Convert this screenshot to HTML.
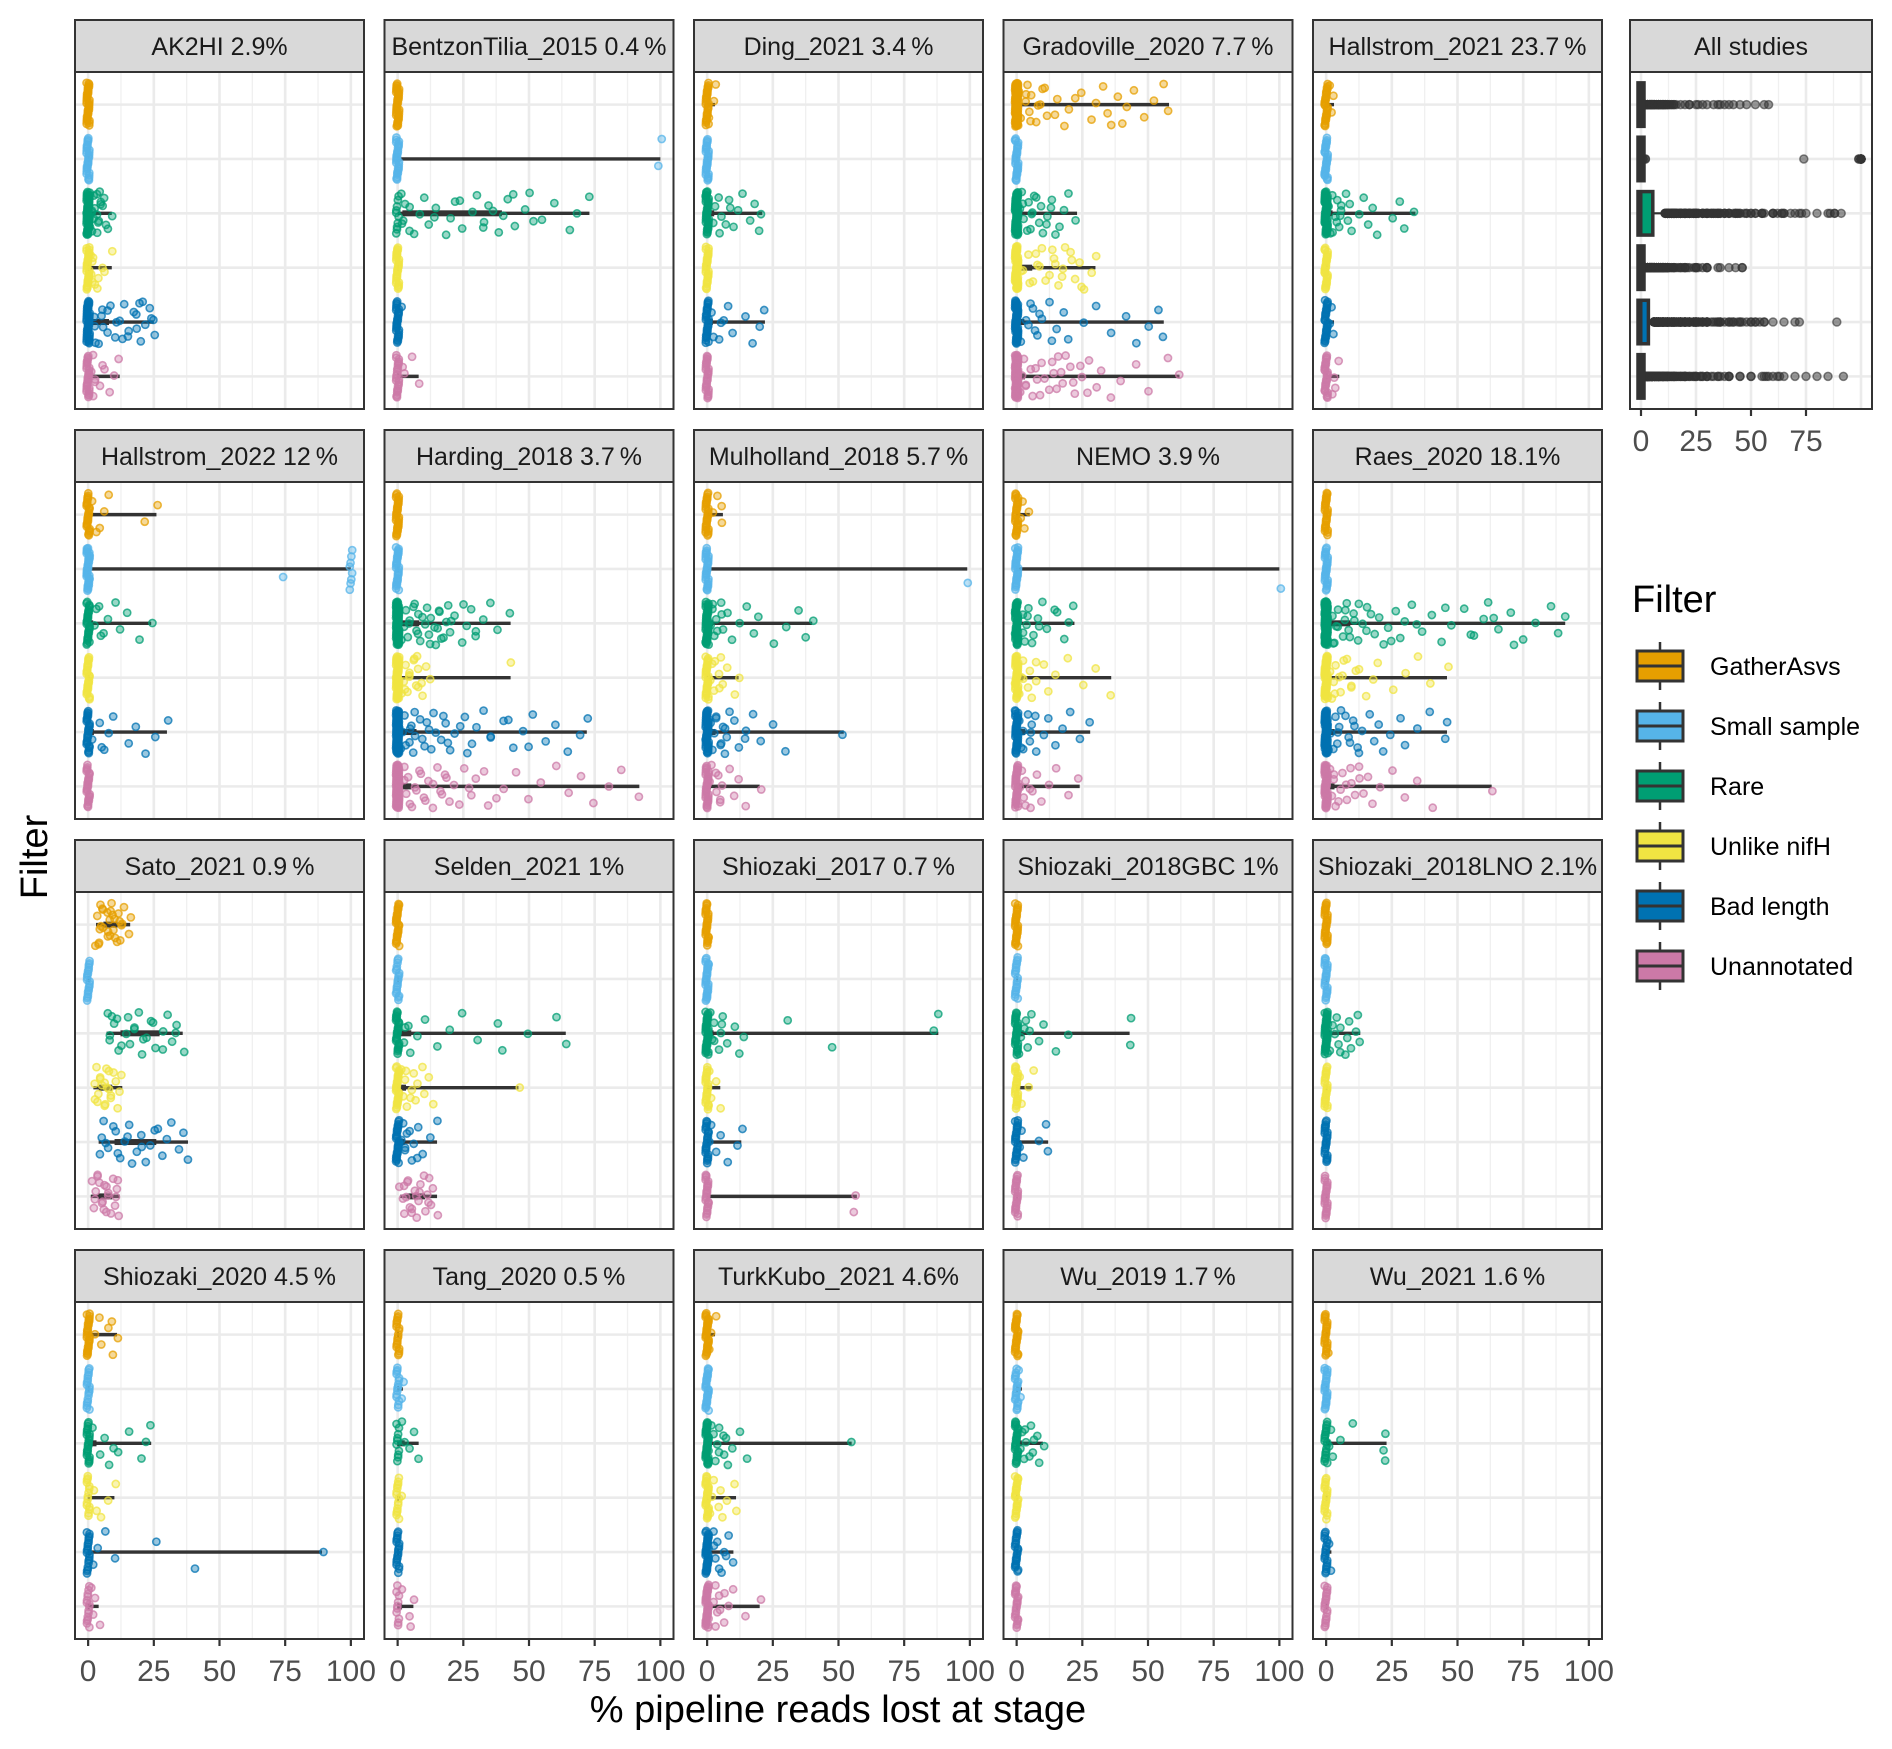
<!DOCTYPE html>
<html><head><meta charset="utf-8"><title>Pipeline reads lost</title>
<style>html,body{margin:0;padding:0;background:#fff}svg{display:block;font-family:"Liberation Sans",sans-serif}</style>
</head><body>
<svg id="chart" width="1892" height="1749" viewBox="0 0 1892 1749" xmlns="http://www.w3.org/2000/svg"></svg>
<script>
// ---- data ----
const studies = ["AK2HI","BentzonTilia_2015","Ding_2021","Gradoville_2020","Hallstrom_2021","Hallstrom_2022","Harding_2018","Mulholland_2018","NEMO","Raes_2020","Sato_2021","Selden_2021","Shiozaki_2017","Shiozaki_2018GBC","Shiozaki_2018LNO","Shiozaki_2020","Tang_2020","TurkKubo_2021","Wu_2019","Wu_2021"];
const studyPct = ["2.9%","0.4\u2009%","3.4\u2009%","7.7\u2009%","23.7\u2009%","12\u2009%","3.7\u2009%","5.7\u2009%","3.9\u2009%","18.1%","0.9\u2009%","1%","0.7\u2009%","1%","2.1%","4.5\u2009%","0.5\u2009%","4.6%","1.7\u2009%","1.6\u2009%"];
const filters = ["GatherAsvs","Small sample","Rare","Unlike nifH","Bad length","Unannotated"];
const filterColors = ["#E69F00","#56B4E9","#009E73","#F0E442","#0072B2","#CC79A7"];
const xTicks = [0,25,50,75,100];
const xTicksAll = [0,25,50,75];
// number of samples at exactly 0, per study, per filter
const zerosGather = [40,40,30,100,30,30,35,30,30,30,0,30,30,30,30,30,20,35,30,25];
const zerosSmall  = [30,30,30,30,30,40,30,30,30,30,20,20,30,20,25,20,15,30,20,25];
const zerosRare   = [60,10,40,70,60,30,80,50,50,100,0,30,40,30,40,25,10,40,30,20];
const zerosUnlike = [30,30,30,60,30,30,60,30,40,60,0,30,25,25,25,15,15,30,25,20];
const zerosBad    = [50,30,30,60,30,30,90,50,40,70,0,30,25,25,25,20,20,40,25,20];
const zerosUnann  = [30,25,30,90,30,30,100,35,35,60,0,0,25,25,25,15,10,40,25,20];
// non-zero values per study, per filter
const valsGather = [
 [],[],[1,2,3],
 [1,2,3,4,5,6,7,8,10,12,15,18,20,25,28,30,33,35,38,40,42,45,48,52,56,58,3,5,9,11,14,22,36],
 [1,2,3],[2,4,6,8,22,26,3],[],[2,4,6,5],[1,2,3,5],[],
 [3,4,5,6,7,8,9,10,11,12,13,14,15,16,4,6,8,10,12,5,7,9,11,13,6,8,10,3,5,7],
 [],[],[],[],[2,4,5,8,10,11,9],[],[1,2,3],[],[1]];
const valsSmall = [
 [],[100,99],[],[],[],[100,100,100,100,100,100,100,100,74],[],[99],[100],[],
 [],[],[],[],[],[],[1,2],[],[1,2],[]];
const valsRare = [
 [1,2,3,4,5,2,3,6,7,3,4,2,5,8,1,2,4,6,3,9],
 [1,2,3,5,8,10,12,15,18,20,22,25,28,30,33,35,38,40,42,45,48,50,55,60,65,68,73,2,4,6,14,24,32,36,44,52],
 [2,3,5,6,8,10,12,14,16,18,20,21,4,7,9],
 [1,2,3,4,5,6,7,8,9,10,12,14,16,18,20,23,2,4,6,8,11,13,15],
 [1,2,3,4,5,6,7,8,9,10,12,14,16,18,20,25,28,30,34,2,4,6,3,5],
 [1,2,3,5,8,10,12,15,20,24,4,6],
 [1,2,3,4,5,6,7,8,9,10,11,12,13,14,15,16,17,18,19,20,22,24,26,28,30,32,35,38,43,2,4,6,8,10,12,14,16,18,20,25,30],
 [1,2,3,4,5,6,8,10,12,15,18,20,25,30,35,38,40,2,4,6],
 [1,2,3,4,5,6,8,10,12,15,18,20,22,2,4,6,9,14],
 [1,2,3,4,5,6,7,8,9,10,12,14,16,18,20,22,24,26,28,30,33,36,40,44,48,52,56,60,62,65,70,75,80,85,88,91,3,5,7,9,11,13,15,17,25,35,45,55,64,72],
 [7,8,10,12,14,15,16,18,20,22,24,26,28,30,32,34,36,8,11,13,17,19,21,25,29,33,9],
 [2,4,5,8,10,15,20,25,30,38,40,50,60,64,3],
 [1,2,3,4,5,6,8,10,12,14,31,47,86,88,3,5],
 [1,2,3,4,5,6,8,10,15,20,43,43,3],
 [1,2,3,4,5,6,7,8,9,10,11,12,13,3,5],
 [2,4,6,8,10,15,20,22,24,12],
 [2,4,6,8,3],
 [1,2,3,4,5,6,7,8,10,12,15,55,2,4,6],
 [1,2,3,4,5,6,8,9,10,3,5,7],
 [1,2,3,5,10,22,23,22]];
const valsUnlike = [
 [1,2,3,5,9,4,2,3,6,1,2],[],[],
 [2,4,6,8,10,12,14,16,18,20,22,24,26,28,30,5,9,13,17,21,25,3,7,11,15,19],
 [],[],[1,2,3,4,5,6,7,8,10,12,43,3,5,7,9,11,2,4,6,8],
 [1,2,3,4,5,6,8,10,12,3,5],[1,2,3,4,5,6,8,10,12,15,20,25,30,36,3,7],
 [1,2,3,4,5,6,8,10,12,15,18,20,25,30,35,40,46,3,5,7,9,11],
 [2,3,4,5,6,7,8,9,10,11,12,13,3,5,7,9,4,6,8,10,2,6],
 [1,2,3,4,5,6,7,8,9,10,12,14,46,3,5],[1,2,3,5],[1,2,5,6],[],[2,5,8,10,3],[1],
 [1,2,3,4,5,6,8,10,11],[],[]];
const valsBad = [
 [2,4,6,8,10,12,14,16,18,20,22,24,25,24,21,19,17,13,11,9,7,5,3,3,5,15,25,20],
 [1],[2,4,5,8,10,14,17,20,22,3,6],
 [2,4,6,8,10,12,15,18,20,25,30,36,42,45,50,54,56,3,5,7,9,14],
 [1,2,3],[2,4,6,8,10,15,18,22,26,30,5],
 [1,2,3,4,5,6,7,8,10,12,14,16,18,20,22,25,28,30,33,36,40,44,48,52,56,60,65,70,72,3,5,7,9,11,13,15,17,19,24,27,35,42,50],
 [1,2,3,4,5,6,7,8,10,12,15,18,20,25,30,52,3,5,7,9,14],
 [1,2,3,4,5,6,8,10,12,15,18,20,24,28,3,5,7],
 [1,2,3,4,5,6,8,10,12,14,16,18,20,22,25,28,30,35,40,45,46,3,5,7,9,11,13],
 [4,5,6,8,10,12,14,16,18,20,22,24,26,28,30,32,34,36,38,7,9,11,15,17,21,25],
 [1,2,3,4,5,6,8,10,12,15,3,5,7],[1,2,3,5,8,12,13],[1,2,3,8,11,12],[],
 [2,4,6,10,26,41,89],[],[1,2,3,4,5,6,8,10,3,5,7],[],[1,2]];
const valsUnann = [
 [1,2,3,5,8,10,12,4,6,2,3],[3,5,8,2],[],
 [1,2,3,4,5,6,8,10,12,14,16,18,20,22,25,28,30,32,36,40,45,50,62,58,3,7,9,11,13,15,17,19,21,24,27],
 [2,3,5,4],[],
 [1,2,3,4,5,6,8,10,12,14,16,18,20,22,25,28,30,35,40,45,50,55,60,65,70,75,80,85,92,3,5,7,9,11,13,15,17,19,23,27,33,38],
 [1,2,3,4,5,6,8,10,12,15,20,3,5],[1,2,3,4,5,6,8,10,12,15,20,24,3,5],
 [1,2,3,4,5,6,8,10,12,14,16,18,20,25,30,35,40,63,3,5,7,9,11,13],
 [1,2,3,4,5,6,7,8,9,10,11,12,2,4,6,8,3,5,7,9,10,11],
 [1,2,3,4,5,6,7,8,9,10,11,12,13,14,15,2,4,6,8,10,12,3,5,7],
 [56,57],[],[],[1,2,3,4],[2,4,6,5],[1,2,3,4,5,6,8,10,15,20,3,5,7],[],[]];

// ---- layout ----
const NS="http://www.w3.org/2000/svg";
const svg=document.getElementById('chart');
function mk(tag,attrs,parent){const e=document.createElementNS(NS,tag);for(const k in attrs)e.setAttribute(k,attrs[k]);(parent||svg).appendChild(e);return e;}
const colLeft=[75,384.5,694,1003.5,1313];
const rowTop=[20,430,840,1250];
const PW=289, STRIP=52, PH=337;
const allLeft=1630, allW=242;
const xDom=[-5,105];
function xScale(v,left,w){return left+(v-xDom[0])/(xDom[1]-xDom[0])*w;}
function yScale(i,top){return top+(i+0.6)*PH/6.2;}
const band=PH/6.2;
function quant(a,p){const s=a.slice().sort((x,y)=>x-y);if(!s.length)return 0;const h=(s.length-1)*p,l=Math.floor(h);return s[l]+(s[Math.min(l+1,s.length-1)]-s[l])*(h-l);}
const zeroArrs=[zerosGather,zerosSmall,zerosRare,zerosUnlike,zerosBad,zerosUnann];
const valArrs=[valsGather,valsSmall,valsRare,valsUnlike,valsBad,valsUnann];
function seriesValues(s,f){const z=[];for(let i=0;i<zeroArrs[f][s];i++)z.push(0);return z.concat(valArrs[f][s]);}

function drawPanelFrame(g,left,top,w,label,minorTicks,majorTicks){
  const strip=mk('rect',{x:left,y:top,width:w,height:STRIP,fill:'#d9d9d9',stroke:'#333',"stroke-width":2},g);
  
  
  const t=mk('text',{x:left+w/2,y:top+STRIP/2+9,"text-anchor":"middle","font-size":25,fill:'#1a1a1a'},g);
  t.textContent=label;
  
  
  try{ if(t.getComputedTextLength()>w-6){t.setAttribute('textLength',w-6);t.setAttribute('lengthAdjust','spacingAndGlyphs');} }catch(e){}
  const pt=top+STRIP;
  mk('rect',{x:left,y:pt,width:w,height:PH,fill:'#fff'},g);
  minorTicks.forEach(v=>{const x=xScale(v,left,w);mk('line',{x1:x,x2:x,y1:pt,y2:pt+PH,stroke:'#f0f0f0',"stroke-width":1.3},g);});
  majorTicks.forEach(v=>{const x=xScale(v,left,w);mk('line',{x1:x,x2:x,y1:pt,y2:pt+PH,stroke:'#ebebeb',"stroke-width":2.6},g);});
  for(let i=0;i<6;i++){const y=yScale(i,pt);mk('line',{x1:left,x2:left+w,y1:y,y2:y,stroke:'#ebebeb',"stroke-width":2.6},g);}
  return pt;
}
function frameBorder(g,left,pt,w){const b=mk('rect',{x:left,y:pt,width:w,height:PH,fill:'none',stroke:'#333',"stroke-width":2},g);}
function axisTicks(g,left,pt,w,ticks){
  ticks.forEach(v=>{const x=xScale(v,left,w);
    mk('line',{x1:x,x2:x,y1:pt+PH,y2:pt+PH+7,stroke:'#333',"stroke-width":2.2},g);
    const tl=mk('text',{x:x,y:pt+PH+42,"text-anchor":"middle","font-size":30,fill:'#4d4d4d'},g);
    tl.textContent=v;
    
    
  });
}
const minors=[12.5,37.5,62.5,87.5];
studies.forEach((name,s)=>{
  const r=Math.floor(s/5),c=s%5,left=colLeft[c],top=rowTop[r];
  const g=mk('g',{});
  
  
  const pt=drawPanelFrame(g,left,top,PW,name+' '+studyPct[s],minors,xTicks);
  filters.forEach((f,fi)=>{
    const vals=seriesValues(s,fi); if(!vals.length)return;
    const yc=yScale(fi,pt);
    const mn=Math.min(...vals),mx=Math.max(...vals),q1=quant(vals,0.25),q3=quant(vals,0.75);
    const bg=mk('g',{},g);
    
    
    mk('line',{x1:xScale(mn,left,PW),x2:xScale(mx,left,PW),y1:yc,y2:yc,stroke:'#333',"stroke-width":3.4},bg);
    mk('rect',{x:xScale(q1,left,PW),y:yc-2.5,width:Math.max(1,xScale(q3,left,PW)-xScale(q1,left,PW)),height:5,fill:'#333',stroke:'#333',"stroke-width":1},bg);
    const pg=mk('g',{},g);
    
    
    vals.forEach((v,i)=>{
      const jy=((i*0.61803+fi*0.37+s*0.13)%1)*2-1;
      const jx=(((i*0.7548+s*0.29)%1)*2-1)*0.6;
      const p=mk('circle',{cx:xScale(v+jx,left,PW),cy:yc+jy*band*0.4,r:3.6,fill:filterColors[fi],"fill-opacity":0.4,stroke:filterColors[fi],"stroke-opacity":0.75,"stroke-width":1.6},pg);
      
      
    });
  });
  frameBorder(g,left,pt,PW);
  if(r===3) axisTicks(g,left,pt,PW,xTicks);
});

// All studies panel
(function(){
  const g=mk('g',{});
  
  
  const pt=drawPanelFrame(g,allLeft,rowTop[0],allW,'All studies',minors,xTicks);
  filters.forEach((f,fi)=>{
    let vals=[];studies.forEach((n,s)=>{vals=vals.concat(seriesValues(s,fi));});
    const yc=yScale(fi,pt);
    const q1=quant(vals,0.25),q3=quant(vals,0.75),md=quant(vals,0.5),iqr=q3-q1;
    const lo=q1-1.5*iqr,hi=q3+1.5*iqr;
    const inl=vals.filter(v=>v>=lo&&v<=hi);
    const wmin=Math.min(...inl),wmax=Math.max(...inl);
    const bg=mk('g',{},g);
    
    
    const X=v=>xScale(v,allLeft,allW);
    mk('line',{x1:X(wmin),x2:X(wmax),y1:yc,y2:yc,stroke:'#333',"stroke-width":2.2},bg);
    vals.filter(v=>v<lo||v>hi).forEach(v=>{
      const o=mk('circle',{cx:X(v),cy:yc,r:4,fill:'#333',"fill-opacity":0.5,stroke:'#333',"stroke-opacity":0.6,"stroke-width":1.5},bg);
      
      
    });
    const bx=X(q1)-3,bw=Math.max(6,X(q3)-X(q1)+6);
    mk('rect',{x:bx,y:yc-band*0.4,width:bw,height:band*0.8,fill:filterColors[fi],stroke:'#333',"stroke-width":3.5},bg);
    mk('line',{x1:X(md),x2:X(md),y1:yc-band*0.4,y2:yc+band*0.4,stroke:'#333',"stroke-width":3},bg);
  });
  frameBorder(g,allLeft,pt,allW);
  axisTicks(g,allLeft,pt,allW,xTicksAll);
})();

// Axis titles
const xt=mk('text',{x:838,y:1722,"text-anchor":"middle","font-size":38,fill:'#000'});
xt.textContent='% pipeline reads lost at stage';


const yt=mk('text',{x:0,y:0,"text-anchor":"middle","font-size":38,fill:'#000',transform:'translate(47,857) rotate(-90)'});
yt.textContent='Filter';



// Legend
const lg=mk('g',{});


const ltitle=mk('text',{x:1632,y:612,"font-size":38,fill:'#000'},lg);
ltitle.textContent='Filter';


filters.forEach((f,i)=>{
  const cy=666+i*60;
  const e=mk('g',{},lg);
  
  
  mk('line',{x1:1660,x2:1660,y1:cy-24,y2:cy+24,stroke:'#333',"stroke-width":2.5},e);
  mk('rect',{x:1637,y:cy-15,width:46,height:30,fill:filterColors[i],stroke:'#333',"stroke-width":3},e);
  mk('line',{x1:1637,x2:1683,y1:cy,y2:cy,stroke:'#333',"stroke-width":3},e);
  const t=mk('text',{x:1710,y:cy+9,"font-size":25,fill:'#000'},e);
  t.textContent=f;
});
</script>
</body></html>
